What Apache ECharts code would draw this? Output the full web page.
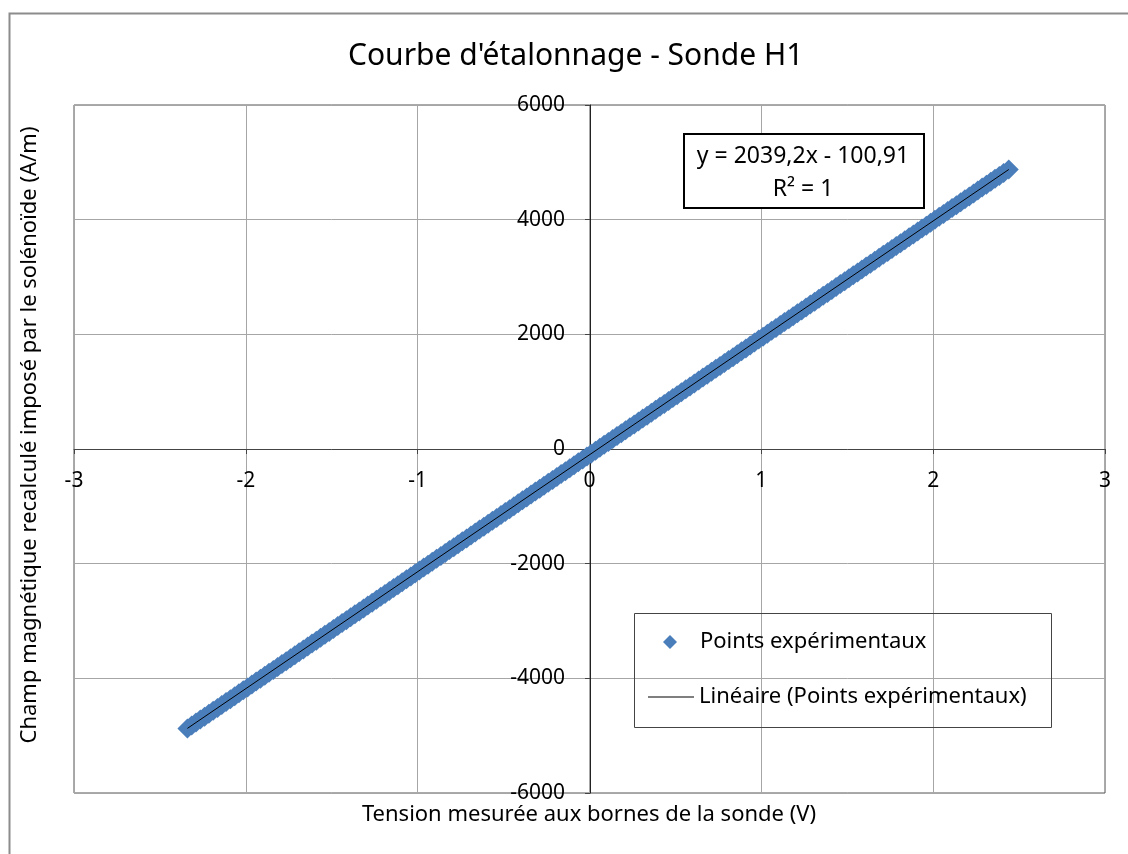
<!DOCTYPE html>
<html>
<head>
<meta charset="utf-8">
<title>Courbe d'étalonnage - Sonde H1</title>
<script src="https://cdn.jsdelivr.net/npm/echarts@6/dist/echarts.min.js"></script>
<style>
    html, body { margin: 0; padding: 0; background: #fff; }
    #chart { width: 1128px; height: 854px; }
</style>
</head>
<body>
<div id="chart"></div>
<script>
    // tension (V)
    var voltage = [-2.34, -2.315, -2.29, -2.265, -2.24, -2.215, -2.19, -2.165, -2.14, -2.115,
        -2.09, -2.065, -2.04, -2.015, -1.99, -1.965, -1.94, -1.915, -1.89, -1.865,
        -1.84, -1.815, -1.79, -1.765, -1.74, -1.715, -1.69, -1.665, -1.64, -1.615,
        -1.59, -1.565, -1.54, -1.515, -1.49, -1.465, -1.44, -1.415, -1.39, -1.365,
        -1.34, -1.315, -1.29, -1.265, -1.24, -1.215, -1.19, -1.165, -1.14, -1.115,
        -1.09, -1.065, -1.04, -1.015, -0.99, -0.965, -0.94, -0.915, -0.89, -0.865,
        -0.84, -0.815, -0.79, -0.765, -0.74, -0.715, -0.69, -0.665, -0.64, -0.615,
        -0.59, -0.565, -0.54, -0.515, -0.49, -0.465, -0.44, -0.415, -0.39, -0.365,
        -0.34, -0.315, -0.29, -0.265, -0.24, -0.215, -0.19, -0.165, -0.14, -0.115,
        -0.09, -0.065, -0.04, -0.015, 0.01, 0.035, 0.06, 0.085, 0.11, 0.135,
        0.16, 0.185, 0.21, 0.235, 0.26, 0.285, 0.31, 0.335, 0.36, 0.385,
        0.41, 0.435, 0.46, 0.485, 0.51, 0.535, 0.56, 0.585, 0.61, 0.635,
        0.66, 0.685, 0.71, 0.735, 0.76, 0.785, 0.81, 0.835, 0.86, 0.885,
        0.91, 0.935, 0.96, 0.985, 1.01, 1.035, 1.06, 1.085, 1.11, 1.135,
        1.16, 1.185, 1.21, 1.235, 1.26, 1.285, 1.31, 1.335, 1.36, 1.385,
        1.41, 1.435, 1.46, 1.485, 1.51, 1.535, 1.56, 1.585, 1.61, 1.635,
        1.66, 1.685, 1.71, 1.735, 1.76, 1.785, 1.81, 1.835, 1.86, 1.885,
        1.91, 1.935, 1.96, 1.985, 2.01, 2.035, 2.06, 2.085, 2.11, 2.135,
        2.16, 2.185, 2.21, 2.235, 2.26, 2.285, 2.31, 2.335, 2.36, 2.385,
        2.41, 2.44]
    // champ (A/m)
    var field = [-4873, -4822, -4771, -4720, -4669, -4618, -4567, -4516, -4465, -4414,
        -4363, -4312, -4261, -4210, -4159, -4108, -4057, -4006, -3955, -3904,
        -3853, -3802, -3751, -3700, -3649, -3598, -3547, -3496, -3445, -3394,
        -3343, -3292, -3241, -3190, -3139, -3088, -3037, -2986, -2935, -2884,
        -2833, -2782, -2731, -2681, -2630, -2579, -2528, -2477, -2426, -2375,
        -2324, -2273, -2222, -2171, -2120, -2069, -2018, -1967, -1916, -1865,
        -1814, -1763, -1712, -1661, -1610, -1559, -1508, -1457, -1406, -1355,
        -1304, -1253, -1202, -1151, -1100, -1049, -998, -947, -896, -845,
        -794, -743, -692, -641, -590, -539, -488, -437, -386, -335,
        -284, -233, -183, -132, -81, -30, 21, 72, 123, 174,
        225, 276, 327, 378, 429, 480, 531, 582, 633, 684,
        735, 786, 837, 888, 939, 990, 1041, 1092, 1143, 1194,
        1245, 1296, 1347, 1398, 1449, 1500, 1551, 1602, 1653, 1704,
        1755, 1806, 1857, 1908, 1959, 2010, 2061, 2112, 2163, 2214,
        2265, 2316, 2366, 2417, 2468, 2519, 2570, 2621, 2672, 2723,
        2774, 2825, 2876, 2927, 2978, 3029, 3080, 3131, 3182, 3233,
        3284, 3335, 3386, 3437, 3488, 3539, 3590, 3641, 3692, 3743,
        3794, 3845, 3896, 3947, 3998, 4049, 4100, 4151, 4202, 4253,
        4304, 4355, 4406, 4457, 4508, 4559, 4610, 4661, 4712, 4763,
        4813, 4875]
    // extrémités de la droite de tendance
    var trendX = [-2.34, 2.44]
    var trendY = [-4873, 4875]
    var xTicks = [-3, 3, 1]
    var yTicks = [-6000, 6000, 2000]
    var equation = ['y = 2039,2x - 100,91', 'R² = 1']

    var FONT = 'Noto Sans'

    var chart = echarts.init(document.getElementById('chart'))
    chart.setOption({
        animation: false,
        textStyle: { fontFamily: FONT },
        title: {
            text: "Courbe d'étalonnage - Sonde H1",
            left: 343,
            top: 36,
            textStyle: { fontFamily: FONT, fontSize: 30, fontWeight: 'normal', color: '#000' }
        },
        grid: {
            left: 74, top: 105, right: 23, bottom: 61,
            show: true, borderColor: '#555', borderWidth: 1
        },
        legend: [{
            data: [{ name: 'Points expérimentaux', icon: 'diamond' }],
            left: 658, top: 626,
            itemWidth: 14, itemHeight: 14,
            textStyle: { fontFamily: FONT, fontSize: 22, color: '#000', padding: [0, 0, 0, 18] }
        }, {
            data: [{ name: 'Linéaire (Points expérimentaux)', icon: 'rect' }],
            left: 643, top: 681,
            itemWidth: 46, itemHeight: 1,
            textStyle: { fontFamily: FONT, fontSize: 22, color: '#000' }
        }],
        xAxis: {
            type: 'value',
            min: xTicks[0], max: xTicks[1], interval: xTicks[2],
            position: 'bottom', offset: -344,
            axisLine: { onZero: false, lineStyle: { color: '#444', width: 1 } },
            axisTick: { show: true, length: 5, lineStyle: { color: '#444' } },
            axisLabel: { fontFamily: FONT, fontSize: 21, color: '#000', margin: 22,
                formatter: function (v) { return String(v) } },
            splitLine: { lineStyle: { color: '#a6a6a6', width: 1 } }
        },
        yAxis: {
            type: 'value',
            min: yTicks[0], max: yTicks[1], interval: yTicks[2],
            position: 'left', offset: -516,
            axisLine: { onZero: false, lineStyle: { color: '#222', width: 1 } },
            axisTick: { show: true, length: 5, lineStyle: { color: '#444' } },
            axisLabel: { fontFamily: FONT, fontSize: 21, color: '#000', margin: 25,
                formatter: function (v) { return String(v) } },
            splitLine: { lineStyle: { color: '#a6a6a6', width: 1 } }
        },
        series: [{
            name: 'Points expérimentaux',
            type: 'scatter',
            symbol: 'diamond',
            symbolSize: 20,
            itemStyle: { color: '#4a7ebb', opacity: 1 },
            data: voltage.map(function (v, i) { return [v, field[i]] }),
            z: 2
        }, {
            name: 'Linéaire (Points expérimentaux)',
            type: 'line',
            symbol: 'none',
            lineStyle: { color: '#000', width: 1 },
            itemStyle: { color: '#000' },
            data: trendX.map(function (v, i) { return [v, trendY[i]] }),
            z: 3
        }],
        graphic: [
            // cadre extérieur
            { type: 'rect', left: 7, top: 11, shape: { width: 1200, height: 900 },
                style: { fill: 'none', stroke: '#8c8c8c', lineWidth: 2 }, silent: true },
            // cadre de la légende
            { type: 'rect', left: 632, top: 611, shape: { width: 417, height: 114 },
                style: { fill: 'none', stroke: '#444', lineWidth: 1 }, z: 10 },
            // étiquette de la courbe de tendance
            { type: 'rect', left: 683, top: 133, shape: { width: 240, height: 74 },
                style: { fill: '#fff', stroke: '#000', lineWidth: 2 }, z: 10 },
            { type: 'text', x: 803, y: 156, z: 11,
                style: { text: equation[0], font: '23px "Noto Sans"', fill: '#000',
                    textAlign: 'center', textVerticalAlign: 'middle' } },
            { type: 'text', x: 803, y: 189, z: 11,
                style: { text: equation[1], font: '23px "Noto Sans"', fill: '#000',
                    textAlign: 'center', textVerticalAlign: 'middle' } },
            // titres des axes
            { type: 'text', x: 589, y: 815, z: 11,
                style: { text: 'Tension mesurée aux bornes de la sonde (V)', font: '22px "Noto Sans"', fill: '#000',
                    textAlign: 'center', textVerticalAlign: 'middle' } },
            { type: 'text', rotation: Math.PI / 2, x: 30, y: 435, z: 11,
                style: { text: 'Champ magnétique recalculé imposé par le solénoïde (A/m)', font: '22px "Noto Sans"', fill: '#000',
                    textAlign: 'center', textVerticalAlign: 'middle' } }
        ]
    })
</script>
</body>
</html>
